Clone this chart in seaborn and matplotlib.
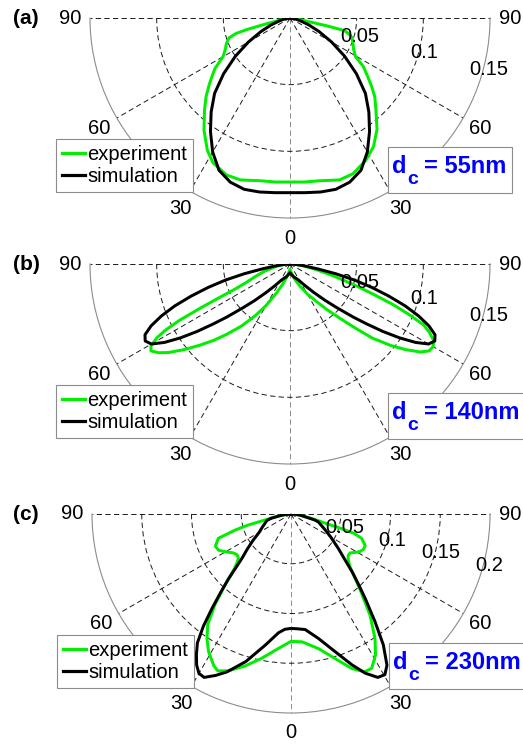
import numpy as np
import pandas as pd
import matplotlib
matplotlib.use("Agg")
import matplotlib.pyplot as plt
from matplotlib.patches import Rectangle
import seaborn as sns

# ---------------- data (angle in degrees from bottom, + to the right) ----------------
a_exp_theta = [-90, -85, -80, -77, -76, -75, -74, -72, -68, -64, -60, -56, -51, -47, -43, -37.5, -32, -28,
               -22, -17, -10, -5, 0, 5, 10, 17, 22, 28, 33, 38, 43, 47, 50, 53, 56.5, 59.5, 64, 68, 72,
               74, 77, 78, 79, 82, 86, 90]
a_exp_r = [0.000, 0.002, 0.006, 0.012, 0.020, 0.034, 0.042, 0.048, 0.0515, 0.054, 0.058, 0.068, 0.0775,
           0.086, 0.094, 0.106, 0.117, 0.123, 0.127, 0.127, 0.124, 0.1235, 0.123, 0.1235, 0.124, 0.127,
           0.126, 0.121, 0.115, 0.106, 0.0945, 0.087, 0.080, 0.073, 0.066, 0.057, 0.053, 0.051, 0.049,
           0.047, 0.042, 0.028, 0.014, 0.006, 0.002, 0.000]
a_sim_theta = [-90, -85, -80, -75, -70, -65, -60, -55, -50, -45, -40, -35, -30, -25, -20, -15, -10, -5, 0,
               5, 10, 15, 20, 25, 30, 35, 40, 45, 50, 55, 60, 65, 70, 75, 80, 85, 90]
a_sim_r = [0.000, 0.001, 0.004, 0.008, 0.015, 0.024, 0.036, 0.050, 0.065, 0.080, 0.092, 0.104, 0.116,
           0.126, 0.131, 0.133, 0.1325, 0.1315, 0.131, 0.1315, 0.1325, 0.133, 0.131, 0.126, 0.116, 0.104,
           0.092, 0.080, 0.065, 0.050, 0.036, 0.024, 0.015, 0.008, 0.004, 0.001, 0.000]

b_exp_theta = [-90, -86, -82, -78, -74, -70, -67, -65.5, -64.5, -63.8, -63, -62, -61, -59.5, -58, -56, -54,
               -51, -48, -45, -42, -38, -34, -30, -25, -20, -14, -7, 0, 7, 14, 20, 25, 30, 35, 39, 43, 46,
               48, 51, 53.5, 56, 58, 60, 62, 64, 65.5, 67, 68.5, 70, 71.5, 73, 75, 78, 82, 86, 90]
b_exp_r = [0.000, 0.004, 0.008, 0.013, 0.020, 0.028, 0.036, 0.045, 0.060, 0.075, 0.093, 0.106, 0.114,
           0.121, 0.123, 0.119, 0.113, 0.102, 0.091, 0.081, 0.071, 0.059, 0.047, 0.036, 0.024, 0.016,
           0.010, 0.006, 0.004, 0.006, 0.010, 0.014, 0.019, 0.026, 0.034, 0.044, 0.057, 0.071, 0.083,
           0.097, 0.108, 0.118, 0.123, 0.124, 0.122, 0.116, 0.110, 0.097, 0.083, 0.067, 0.054, 0.043,
           0.032, 0.020, 0.010, 0.004, 0.000]
b_sim_theta = [-90, -86, -83, -80, -78, -76, -74, -72, -70, -68, -66, -64, -62, -60, -58, -56, -54, -52,
               -50, -47, -44, -40, -35, -30, -24, -16, -8, 0, 8, 16, 24, 30, 35, 40, 44, 47, 50, 52, 54,
               56, 58, 60, 62, 64, 66, 68, 70, 72, 74, 76, 78, 80, 83, 86, 90]
b_sim_r = [0.000, 0.004, 0.010, 0.021, 0.035, 0.050, 0.064, 0.078, 0.092, 0.104, 0.114, 0.121, 0.123,
           0.120, 0.111, 0.099, 0.086, 0.073, 0.062, 0.048, 0.038, 0.028, 0.020, 0.015, 0.012, 0.010,
           0.008, 0.0065, 0.008, 0.010, 0.012, 0.015, 0.020, 0.028, 0.038, 0.048, 0.062, 0.073, 0.086,
           0.099, 0.111, 0.120, 0.123, 0.121, 0.114, 0.104, 0.092, 0.078, 0.064, 0.050, 0.035, 0.021,
           0.010, 0.004, 0.000]

c_exp_theta = [-90, -85, -81, -77, -75.5, -74, -71.5, -67, -63.5, -60, -56, -53, -50, -48, -46, -43, -40,
               -37, -34, -31, -27, -25, -22, -17, -11.5, -5.5, 0, 5, 11.5, 17, 21.5, 25, 27.6, 31, 34, 38,
               42, 45, 48, 51, 54, 56.5, 59, 61.5, 64, 67, 71, 73, 74, 75, 77, 81, 85, 90]
c_exp_r = [0.000, 0.005, 0.013, 0.027, 0.045, 0.058, 0.077, 0.0825, 0.0815, 0.076, 0.070, 0.068, 0.069,
           0.073, 0.079, 0.097, 0.119, 0.139, 0.151, 0.161, 0.171, 0.174, 0.170, 0.160, 0.148, 0.136,
           0.128, 0.129, 0.138, 0.152, 0.167, 0.175, 0.175, 0.165, 0.151, 0.129, 0.105, 0.091, 0.080,
           0.074, 0.071, 0.071, 0.075, 0.079, 0.081, 0.081, 0.075, 0.066, 0.050, 0.035, 0.025, 0.012,
           0.005, 0.000]
c_sim_theta = [-90, -86, -82, -78, -75, -70, -65, -60, -55, -51, -48, -46, -44, -42, -40, -38, -36, -34,
               -32, -30, -28, -25, -22, -17, -11, -6, -3, 0, 3, 7, 12.4, 17.7, 22, 25, 28, 30.3, 32.4,
               35.2, 38, 41.3, 44, 46.5, 50, 54, 60, 65, 70, 74, 76, 79, 82, 86, 90]
c_sim_r = [0.000, 0.004, 0.010, 0.020, 0.025, 0.028, 0.032, 0.037, 0.047, 0.057, 0.066, 0.076, 0.090,
           0.105, 0.123, 0.143, 0.160, 0.170, 0.179, 0.185, 0.186, 0.179, 0.171, 0.155, 0.134, 0.120,
           0.116, 0.115, 0.1155, 0.117, 0.128, 0.145, 0.1635, 0.1765, 0.186, 0.187, 0.180, 0.161, 0.137,
           0.113, 0.097, 0.085, 0.070, 0.0587, 0.046, 0.038, 0.032, 0.0285, 0.024, 0.014, 0.010, 0.005,
           0.000]

theta_ticks = [-90, -60, -30, 0, 30, 60, 90]
theta_tick_labels = ["90", "60", "30", "0", "30", "60", "90"]
series_names = ["experiment", "simulation"]
panel_labels = ["(a)", "(b)", "(c)"]
diameters = ["55nm", "140nm", "230nm"]
r_ticks_ab = [0.05, 0.1, 0.15]
r_tick_labels_ab = ["0.05", "0.1", "0.15"]
r_ticks_c = [0.05, 0.1, 0.15, 0.2]
r_tick_labels_c = ["0.05", "0.1", "0.15", "0.2"]

# ---------------- style ----------------
W, H, DPI = 523, 746, 100
plt.rcParams["font.family"] = ["Liberation Sans", "DejaVu Sans"]
plt.rcParams["lines.scale_dashes"] = False
GREEN = "#00ee00"
BLUE = "#0000ff"
FS = 14.5
DASH = (0, (3.8, 2.4))
GRIDC = "#1a1a1a"

fig = plt.figure(figsize=(W / DPI, H / DPI), dpi=DPI)
fig.patch.set_facecolor("white")

panels = [
    dict(cx=290, cy=18, R=200, rticks=r_ticks_ab, rlabels=r_tick_labels_ab,
         exp=(a_exp_theta, a_exp_r), sim=(a_sim_theta, a_sim_r), lab=panel_labels[0], dc=diameters[0], boxw=124),
    dict(cx=290, cy=264, R=200, rticks=r_ticks_ab, rlabels=r_tick_labels_ab,
         exp=(b_exp_theta, b_exp_r), sim=(b_sim_theta, b_sim_r), lab=panel_labels[1], dc=diameters[1], boxw=140),
    dict(cx=291, cy=514, R=199, rticks=r_ticks_c, rlabels=r_tick_labels_c,
         exp=(c_exp_theta, c_exp_r), sim=(c_sim_theta, c_sim_r), lab=panel_labels[2], dc=diameters[2], boxw=140),
]


def fx(px):
    return px / W


def fy(py):
    return 1 - py / H


for p in panels:
    cx, cy, R = p["cx"], p["cy"], p["R"]
    rmax = p["rticks"][-1]
    # square axes box: the half-disk wedge is centred vertically inside it
    top = cy - R / 2
    ax = fig.add_axes([fx(cx - R), fy(top + 2 * R), 2 * R / W, 2 * R / H], projection="polar")
    ax.set_theta_zero_location("S")
    ax.set_thetamin(-90)
    ax.set_thetamax(90)

    frames = []
    for name, (th, rr) in zip(series_names, [p["exp"], p["sim"]]):
        frames.append(pd.DataFrame({"theta": np.deg2rad(th), "r": rr, "series": name}))
    df = pd.concat(frames, ignore_index=True)
    sns.lineplot(data=df, x="theta", y="r", hue="series", hue_order=series_names,
                 palette={"experiment": GREEN, "simulation": "black"}, sort=False,
                 estimator=None, linewidth=2.15, ax=ax, legend=True, zorder=3)

    ax.set_rlim(0, rmax)
    ax.set_thetagrids(theta_ticks, labels=[""] * len(theta_ticks))
    ax.set_rgrids(p["rticks"][:-1], labels=[""] * (len(p["rticks"]) - 1))
    ax.xaxis.grid(False)
    ax.yaxis.grid(True, color=GRIDC, linestyle=DASH, linewidth=0.7)
    ax.tick_params(length=0)
    ax.set_xlabel("")
    ax.set_ylabel("")
    # PolarAxes.draw re-enables start/end spines, so make them transparent instead
    for k in ("start", "end", "inner"):
        ax.spines[k].set_color("none")
        ax.spines[k].set_linewidth(0)
    ax.spines["polar"].set_color("#8c8c8c")
    ax.spines["polar"].set_linewidth(0.8)

    # radial spokes (dashed, like the reference grid)
    for t in theta_ticks:
        ax.plot([np.deg2rad(t)] * 2, [0, rmax], linestyle=DASH, linewidth=0.7,
                color="#8a8a8a" if t == 0 else GRIDC, zorder=1, clip_on=False)

    for t, lab in zip(theta_ticks, theta_tick_labels):
        ax.text(np.deg2rad(t), rmax * 1.1, lab, ha="center", va="center", fontsize=FS, clip_on=False)
    for rv, lab in zip(p["rticks"], p["rlabels"]):
        ax.text(np.deg2rad(75.5), rv + 0.004 * rmax / 0.15, lab, ha="center", va="center",
                fontsize=FS, clip_on=False, zorder=6)

    sns.move_legend(ax, "upper left", bbox_to_anchor=(fx(cx - 234), fy(cy + 121)),
                    bbox_transform=fig.transFigure, title=None, frameon=True, fancybox=False,
                    edgecolor="#8c8c8c", framealpha=1, fontsize=FS, handlelength=1.15,
                    handletextpad=0.1, borderpad=0.3, labelspacing=0.15, borderaxespad=0)
    leg = ax.get_legend()
    leg.get_frame().set_linewidth(0.8)
    for ln in leg.get_lines():
        ln.set_linewidth(2.3)

    # d_c box
    fig.add_artist(Rectangle((fx(cx + 98), fy(cy + 175)), p["boxw"] / W, 46 / H,
                             transform=fig.transFigure, facecolor="white", edgecolor="#8c8c8c",
                             linewidth=0.8, zorder=10))
    fig.text(fx(cx + 102), fy(cy + 155), "d", color=BLUE, fontsize=17, fontweight="bold",
             ha="left", va="baseline", zorder=11)
    fig.text(fx(cx + 117), fy(cy + 166), "c", color=BLUE, fontsize=14, fontweight="bold",
             ha="left", va="baseline", zorder=11)
    fig.text(fx(cx + 134), fy(cy + 155), "= " + p["dc"], color=BLUE, fontsize=17, fontweight="bold",
             ha="left", va="baseline", zorder=11)
    fig.text(fx(26), fy(cy + 1), p["lab"], fontsize=15, fontweight="bold",
             ha="center", va="center")

fig.savefig("out.png", dpi=DPI, facecolor="white")
